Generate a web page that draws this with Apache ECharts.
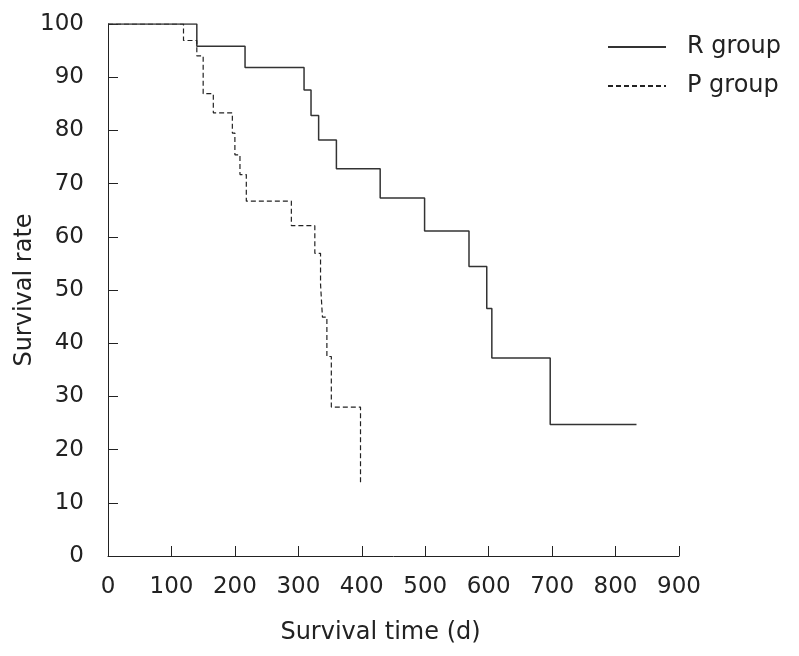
<!DOCTYPE html>
<html>
<head>
<meta charset="utf-8">
<script src="https://cdn.jsdelivr.net/npm/echarts@6/dist/echarts.min.js"></script>
<style>
html,body{margin:0;padding:0;background:#fff;}
#chart{width:799px;height:656px;}
</style>
</head>
<body>
<div id="chart"></div>
<script>
// Kaplan-Meier survival data (time in days, survival rate in %)
const rTime = [0, 140, 216, 309, 320, 332, 360, 429, 499, 569, 597, 605, 697, 833];
const rSurv = [100, 95.8, 91.8, 87.6, 82.8, 78.2, 72.8, 67.3, 61.1, 54.4, 46.5, 37.2, 24.7, 24.7];
const pTime = [0, 119, 140, 150, 166, 196, 200, 208, 218, 289, 326, 335, 338, 345, 352, 398];
const pSurv = [100, 96.9, 94.0, 86.9, 83.3, 79.5, 75.4, 71.7, 66.7, 62.1, 56.9, 51.1, 44.9, 37.5, 28.0, 13.7];
const seriesNames = ['R group', 'P group'];
const xTicks = [0, 900, 100];
const yTicks = [0, 100, 10];

const FONT = '"DejaVu Sans", sans-serif';
const TXT = '#222';

function pairs(t, s) { return t.map((v, i) => [v, s[i]]); }

const chart = echarts.init(document.getElementById('chart'), null, {renderer: 'canvas'});
chart.setOption({
  animation: false,
  backgroundColor: '#fff',
  textStyle: {fontFamily: FONT, color: TXT},
  grid: {left: 108, right: 120, top: 24, bottom: 100, containLabel: false, outerBoundsMode: 'none'},
  legend: {
    orient: 'vertical',
    left: 602,
    top: 30,
    itemWidth: 58,
    itemHeight: 24,
    itemGap: 15,
    data: seriesNames,
    itemStyle: {opacity: 0},
    textStyle: {fontFamily: FONT, fontSize: 24, color: TXT, padding: [0, 0, 0, 16]}
  },
  xAxis: {
    type: 'value',
    min: xTicks[0], max: xTicks[1], interval: xTicks[2],
    name: 'Survival time (d)',
    nameLocation: 'middle',
    nameGap: 65,
    nameMoveOverlap: false,
    nameTextStyle: {fontFamily: FONT, fontSize: 24, color: TXT, padding: [0, 26, 0, 0]},
    axisLine: {show: true, lineStyle: {color: '#222', width: 1}},
    axisTick: {show: true, inside: true, length: 10, lineStyle: {color: '#222'}},
    axisLabel: {fontFamily: FONT, fontSize: 23, color: TXT, margin: 20},
    splitLine: {show: false}
  },
  yAxis: {
    type: 'value',
    min: yTicks[0], max: yTicks[1], interval: yTicks[2],
    name: 'Survival rate',
    nameLocation: 'middle',
    nameGap: 71,
    nameMoveOverlap: false,
    nameTextStyle: {fontFamily: FONT, fontSize: 24, color: TXT},
    axisLine: {show: true, lineStyle: {color: '#222', width: 1}},
    axisTick: {show: true, inside: true, length: 10, lineStyle: {color: '#222'}},
    axisLabel: {fontFamily: FONT, fontSize: 23, color: TXT, margin: 24},
    splitLine: {show: false}
  },
  series: [
    {
      name: seriesNames[0],
      type: 'line',
      step: 'end',
      symbol: 'none',
      data: pairs(rTime, rSurv),
      lineStyle: {color: '#333', width: 1.5, type: 'solid'},
      itemStyle: {color: '#333'}
    },
    {
      name: seriesNames[1],
      type: 'line',
      step: 'end',
      symbol: 'none',
      data: pairs(pTime, pSurv),
      lineStyle: {color: '#222', width: 1.2, type: [5, 3]},
      itemStyle: {color: '#222'}
    }
  ]
});
</script>
</body>
</html>
